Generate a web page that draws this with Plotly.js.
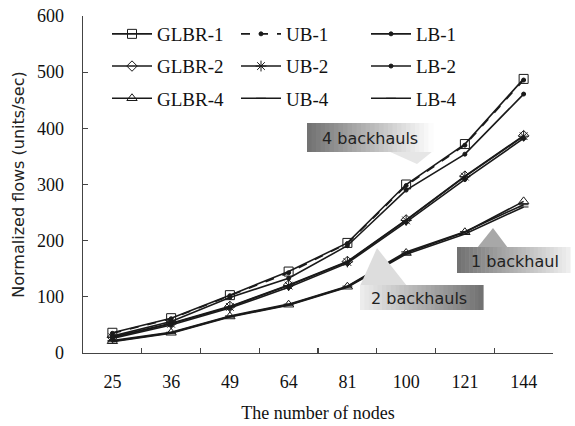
<!DOCTYPE html>
<html>
<head>
<meta charset="utf-8">
<script src="https://cdn.plot.ly/plotly-3.0.1.min.js"></script>
<style>html,body{margin:0;padding:0;background:#fff;}#chart{width:575px;height:426px;}</style>
</head>
<body>
<div id="chart"></div>
<script>
var nodes = ['25','36','49','64','81','100','121','144'];
var glbr1 = [36, 62, 103, 145, 196, 300, 372, 488];
var ub1   = [35, 61, 102, 143, 195, 298, 370, 486];
var lb1   = [30, 56, 99, 133, 191, 290, 354, 461];
var glbr2 = [28, 53, 83, 121, 163, 237, 315, 387];
var ub2   = [28, 52, 82, 120, 162, 236, 314, 386];
var lb2   = [26, 50, 80, 117, 160, 233, 309, 382];
var glbr4 = [21, 36, 65, 86, 118, 178, 215, 270];
var ub4   = [22, 37, 66, 87, 119, 180, 216, 264];
var lb4   = [20, 35, 64, 85, 117, 176, 212, 260];
var yTicks = [0, 100, 200, 300, 400, 500, 600];

var C = '#1a1a1a';
function tr(name, y, sym, size, dash, leg, grp) {
  return {
    x: nodes, y: y, name: name, type: 'scatter', mode: 'lines+markers',
    line: {color: C, width: 1.6, dash: dash || 'solid'},
    marker: {symbol: sym, size: size, color: C, line: {color: C, width: 1}},
    legend: leg, legendgroup: grp
  };
}
var data = [
  tr('GLBR-1', glbr1, 'square-open', 9, 'solid', 'legend', 'a1'),
  tr('GLBR-2', glbr2, 'diamond-open', 8, 'solid', 'legend', 'a2'),
  tr('GLBR-4', glbr4, 'triangle-up-open', 9, 'solid', 'legend', 'a3'),
  tr('UB-1', ub1, 'circle', 4, 'dash', 'legend2', 'b1'),
  tr('UB-2', ub2, 'asterisk-open', 9, 'solid', 'legend2', 'b2'),
  tr('UB-4', ub4, 'line-ew-open', 7, 'solid', 'legend2', 'b3'),
  tr('LB-1', lb1, 'circle', 4, 'solid', 'legend3', 'c1'),
  tr('LB-2', lb2, 'circle', 4, 'solid', 'legend3', 'c2'),
  tr('LB-4', lb4, 'line-ew-open', 7, 'solid', 'legend3', 'c3')
];

// pixel -> paper helpers (plot area: x 83..553, y 16..353)
function PX(p){ return (p - 83) / 470; }
function PY(p){ return (353 - p) / 337; }
function hex(v){ var s = Math.round(v).toString(16); return s.length < 2 ? '0' + s : s; }
function gray(g){ return '#' + hex(g) + hex(g) + hex(g); }
var shapes = [];
function gradBox(x0, x1, y0, y1, g0, g1, n) {
  var w = (x1 - x0) / n;
  for (var i = 0; i < n; i++) {
    var g = g0 + (g1 - g0) * (i + 0.5) / n;
    shapes.push({type: 'rect', xref: 'paper', yref: 'paper', layer: 'above',
      x0: PX(x0 + i * w), x1: PX(x0 + (i + 1) * w + 0.6), y0: PY(y1), y1: PY(y0),
      line: {width: 0}, fillcolor: gray(g)});
  }
}
function tri(pts, g) {
  var d = 'M' + pts.map(function(p){ return PX(p[0]) + ',' + PY(p[1]); }).join(' L') + ' Z';
  shapes.push({type: 'path', xref: 'paper', yref: 'paper', layer: 'above', path: d,
    line: {width: 0}, fillcolor: gray(g)});
}
// 4 backhauls
tri([[388, 151], [433, 151], [417, 164]], 0xe6);
gradBox(307, 433, 123, 152, 0x70, 0xff, 28);
// 2 backhauls
tri([[360, 286], [407, 286], [377, 248]], 0xdd);
gradBox(360, 483, 285, 310, 0xee, 0x70, 28);
// 1 backhaul
tri([[477, 248], [508, 248], [493, 228]], 0xa8);
gradBox(457, 570, 247, 273, 0x70, 0xf0, 28);

var annFont = {family: 'DejaVu Sans', size: 16, color: '#222'};
function ann(t, x, y) {
  return {text: t, xref: 'paper', yref: 'paper', x: PX(x), y: PY(y), xanchor: 'center', yanchor: 'middle',
    showarrow: false, font: annFont};
}
var annotations = [
  ann('4 backhauls', 370, 138),
  ann('2 backhauls', 419, 298),
  ann('1 backhaul', 515, 261)
];

var legFont = {family: 'Liberation Serif', size: 19, color: '#111'};
function leg(px) {
  return {x: PX(px), xanchor: 'left', y: PY(15), yanchor: 'top', orientation: 'v',
    font: legFont, bgcolor: 'rgba(0,0,0,0)', itemwidth: 40, tracegroupgap: 4.5, traceorder: 'grouped'};
}

var layout = {
  width: 575, height: 426,
  margin: {l: 83, r: 22, t: 16, b: 73},
  paper_bgcolor: '#fff', plot_bgcolor: '#fff',
  showlegend: true,
  legend: leg(107), legend2: leg(236), legend3: leg(366),
  xaxis: {
    type: 'category', range: [-0.5, 7.5], showgrid: false, zeroline: false,
    showline: true, linecolor: '#444', linewidth: 1.3,
    ticks: 'inside', tickson: 'boundaries', ticklen: 5, tickcolor: '#444', tickwidth: 1.2,
    ticklabelstandoff: 12,
    tickfont: {family: 'Liberation Serif', size: 18, color: '#111'},
    title: {text: 'The number of nodes', font: {family: 'Liberation Serif', size: 18, color: '#111'}, standoff: 15}
  },
  yaxis: {
    range: [0, 600], tickvals: yTicks, showgrid: false, zeroline: false,
    showline: true, linecolor: '#444', linewidth: 1.3,
    ticks: 'inside', ticklen: 5, tickcolor: '#444', tickwidth: 1.2,
    ticklabelstandoff: 14,
    tickfont: {family: 'Liberation Serif', size: 18, color: '#111'},
    title: {text: 'Normalized flows (units/sec)', font: {family: 'DejaVu Sans', size: 16, color: '#222'}, standoff: 8}
  },
  shapes: shapes,
  annotations: annotations
};
Plotly.newPlot('chart', data, layout, {displayModeBar: false, staticPlot: true});
</script>
</body>
</html>
